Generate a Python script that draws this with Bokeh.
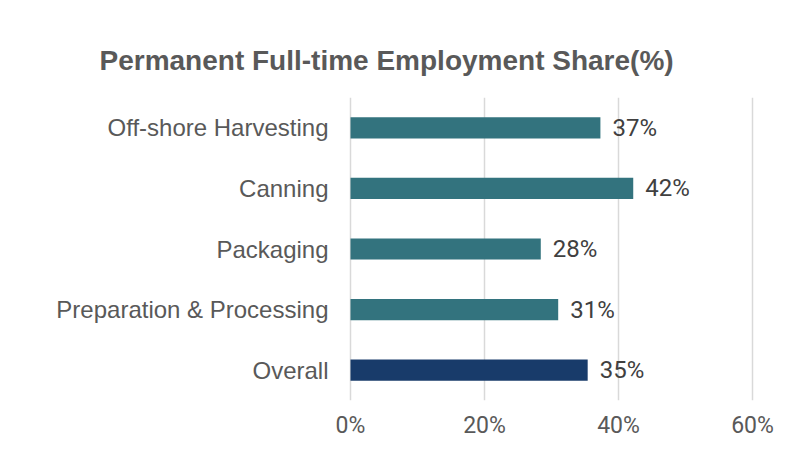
from bokeh.plotting import figure
from bokeh.models import FactorRange, Range1d, ColumnDataSource, FixedTicker, CustomJSTickFormatter
from bokeh.core.properties import value
from bokeh.embed import file_html
from bokeh.resources import INLINE

categories = ["Off-shore Harvesting", "Canning", "Packaging", "Preparation & Processing", "Overall"]
shares = [37.3, 42.2, 28.4, 31.0, 35.4]
bar_colors = ["#33737E", "#33737E", "#33737E", "#33737E", "#183B6A"]
x_ticks = [0, 20, 40, 60]
title_text = "Permanent Full-time Employment Share(%)"

labels = [f"{round(v)}%" for v in shares]
src = ColumnDataSource(dict(cat=categories, val=shares, color=bar_colors, lab=labels))

p = figure(width=794, height=450, output_backend="svg", toolbar_location=None,
           y_range=FactorRange(factors=list(reversed(categories)), range_padding=0),
           x_range=Range1d(-0.3, 60.3), title=title_text)
p.min_border_left = 348
p.min_border_right = 40
p.min_border_top = 97
p.min_border_bottom = 50
p.outline_line_color = None
p.background_fill_color = "white"
p.border_fill_color = "white"

p.title.align = "left"
p.title.offset = -249
p.title.standoff = 44
p.title.text_font = "Liberation Sans"
p.title.text_font_style = "bold"
p.title.text_font_size = "28px"
p.title.text_color = "#595959"

p.hbar(y="cat", left=0, right="val", height=0.35, color="color", source=src,
       line_color=None)
p.text(x="val", y="cat", text="lab", source=src, x_offset=12, text_baseline="middle",
       text_font=value("Roboto"), text_font_size="24px", text_color="#404040")

p.xaxis.ticker = FixedTicker(ticks=x_ticks)
p.xaxis.formatter = CustomJSTickFormatter(code="return tick + '%';")
p.xaxis.axis_line_color = None
p.xaxis.major_tick_line_color = None
p.xaxis.minor_tick_line_color = None
p.xaxis.major_label_text_font = "Roboto"
p.xaxis.major_label_text_font_size = "23px"
p.xaxis.major_label_text_color = "#595959"
p.xaxis.major_label_standoff = 5

p.yaxis.axis_line_color = None
p.yaxis.major_tick_line_color = None
p.yaxis.minor_tick_line_color = None
p.yaxis.major_label_text_font = "Liberation Sans"
p.yaxis.major_label_text_font_size = "24px"
p.yaxis.major_label_text_color = "#595959"
p.yaxis.major_label_standoff = 14

p.ygrid.grid_line_color = None
p.xgrid.grid_line_color = "#D9D9D9"
p.xgrid.grid_line_width = 1.5

open("out.html", "w").write(file_html(p, INLINE))
